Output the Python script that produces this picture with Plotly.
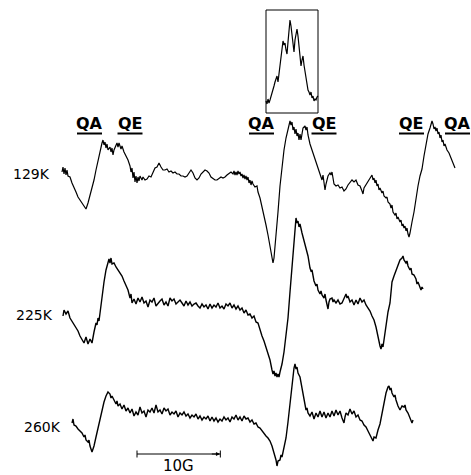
import plotly.graph_objects as go

# ---------------- data (field offset in gauss, derivative signal in a.u.) ----------------
field_129 = [0, 0.12, 0.24, 0.36, 0.48, 0.6, 0.72, 0.96, 1.2, 1.44, 1.68, 1.92, 2.16, 2.4, 2.64, 2.88, 3.12, 3.36, 3.6, 3.84, 4.08, 4.32, 4.56, 4.8,
             4.92, 5.04, 5.16, 5.28, 5.4, 5.52, 5.76, 5.88, 6.0, 6.12, 6.24, 6.48, 6.6, 6.72, 6.84, 7.08, 7.2, 7.44, 7.68, 7.92, 8.16,
             8.28, 8.4, 8.52, 8.64, 8.76, 8.88, 9.0, 9.12, 9.24, 9.36, 9.6, 9.72,
             9.96, 10.2, 10.44, 10.68, 10.92, 11.16, 11.4, 11.64, 11.88, 12.12, 12.36, 12.6, 12.84, 13.08, 13.32, 13.56, 13.8, 14.04, 14.28,
             14.52, 14.76, 15.0, 15.24, 15.48, 15.72, 15.96, 16.2, 16.44, 16.68, 16.92, 17.16, 17.4, 17.64, 17.88, 18.12, 18.36, 18.6, 18.84,
             19.08, 19.32, 19.56, 19.8, 20.04, 20.28, 20.52,
             20.64, 20.76, 20.88, 21.0, 21.12, 21.24, 21.36, 21.48, 21.6, 21.72, 21.84, 21.96, 22.08, 22.2, 22.32, 22.44, 22.56, 22.68, 22.8, 22.92,
             23.16, 23.4, 23.52, 23.76, 24.0, 24.24, 24.48, 24.72, 24.96, 25.2, 25.32, 25.44,
             25.68, 25.92, 26.16, 26.4, 26.64, 26.88, 27.12, 27.36,
             27.48, 27.6, 27.72, 27.84, 27.96, 28.08, 28.2, 28.32, 28.44, 28.56, 28.68, 28.8, 28.92,
             29.16, 29.28, 29.4, 29.52, 29.76, 30.0, 30.24, 30.48, 30.72, 30.96, 31.2,
             31.32, 31.44, 31.56, 31.68, 31.8, 31.92, 32.16, 32.28, 32.4, 32.52, 32.64,
             32.88, 33.12, 33.36, 33.6, 33.84, 34.08, 34.32, 34.56, 34.8, 35.04, 35.28, 35.52, 35.76, 36.0,
             36.12, 36.24, 36.48, 36.72, 36.96, 37.2,
             37.32, 37.44, 37.56, 37.68, 37.8, 37.92, 38.04, 38.16, 38.4, 38.52, 38.64, 38.88, 39.0, 39.12,
             39.36, 39.48, 39.6, 39.72, 39.96, 40.08, 40.2, 40.32,
             40.56, 40.68, 40.8, 40.92, 41.04, 41.16, 41.28, 41.4, 41.52, 41.64, 41.76, 41.88, 42.0,
             42.24, 42.48, 42.72, 42.96, 43.2, 43.44, 43.68, 43.92, 44.16,
             44.28, 44.4, 44.52, 44.64, 44.76, 44.88, 45.0, 45.12, 45.24, 45.36, 45.48, 45.6, 45.72, 45.84, 45.96, 46.08, 46.2,
             46.44, 46.68, 46.92, 47.16]
signal_129 = [3, 8, 1, 7, 0, 5, -1, -2, -8, -12, -17, -22, -25, -28, -31, -34, -28, -21, -14, -5, 5, 15, 23, 32,
              35, 30, 33, 27, 31, 25, 28, 23, 27, 20, 25, 29, 32, 28, 32, 26, 29, 23, 19, 15, 9,
              3, 7, -3, 3, -7, -1, -8, -2, -6, -1, -5, -2,
              -5, -4, -1, -2, 3, 7, 8, 12, 8, 5, 5, 6, 3, 4, 2, 3, 1, 1, -1,
              -1, -2, -1, 2, 5, 2, -3, -5, -3, 1, 3, 5, 4, 2, -2, -4, -5, -5, -3,
              -2, -3, -2, 0, 2, 3, 1,
              4, 0, 3, 0, 4, 1, 3, -1, 1, -3, 0, -4, -1, -5, -2, -8, -5, -10, -6, -9,
              -12, -11, -17, -23, -31, -40, -50, -60, -72, -85, -88, -83,
              -63, -37, -11, 9, 25, 37, 47, 54,
              50, 53, 45, 48, 41, 46, 39, 42, 35, 41, 35, 44, 47,
              49, 45, 48, 40, 31, 25, 20, 15, 8, 2, -5,
              0, -7, -15, -9, -4, -1, 2, 0, 3, -3, -9,
              -11, -10, -13, -12, -16, -14, -10, -7, -5, -7, -5, -10, -11, -16,
              -19, -13, -10, -7, -3, 0,
              -5, -3, -8, -5, -11, -9, -15, -13, -18, -16, -21, -23, -22, -27,
              -29, -33, -30, -37, -40, -38, -44, -42,
              -47, -45, -51, -49, -53, -51, -56, -53, -59, -62, -58, -50, -47,
              -37, -23, -11, -1, 6, 19, 30, 41, 47,
              50, 54, 51, 46, 48, 44, 47, 41, 43, 37, 40, 33, 35, 29, 31, 27, 25,
              22, 17, 12, 7]

field_225 = [0.12, 0.24, 0.48, 0.72, 0.96, 1.2, 1.44, 1.68, 1.92, 2.16, 2.4, 2.64, 2.88, 3.12, 3.36, 3.6, 3.84, 4.08, 4.2, 4.32,
             4.44, 4.56, 4.8, 5.04, 5.28, 5.52, 5.64, 5.76, 5.88, 6.0, 6.24, 6.48, 6.72, 6.96, 7.2, 7.44, 7.68, 7.92, 8.16, 8.28, 8.4,
             8.64, 8.88, 9.12, 9.36, 9.6, 9.84, 10.08, 10.32, 10.56, 10.8, 11.04, 11.28, 11.52, 11.76, 12.0, 12.24, 12.48, 12.72, 12.96,
             13.2, 13.44, 13.68, 13.92, 14.16, 14.4, 14.64, 14.88, 15.12, 15.36, 15.6, 15.84, 16.08, 16.32, 16.56, 16.8, 17.04, 17.28, 17.52, 17.76,
             18.0, 18.24, 18.48, 18.72, 18.96, 19.2, 19.44, 19.68, 19.92, 20.16, 20.4, 20.64, 20.88, 21.12, 21.36, 21.6, 21.84, 22.08, 22.32, 22.56,
             22.8, 23.04, 23.28, 23.52, 23.76, 24.0, 24.24, 24.48, 24.72, 24.96,
             25.2, 25.32, 25.44, 25.56, 25.68, 25.8, 25.92, 26.04, 26.16, 26.4, 26.64, 26.88, 27.12, 27.36, 27.6, 27.84, 27.96, 28.08, 28.2, 28.32,
             28.44, 28.56, 28.8, 29.04, 29.28, 29.52, 29.76, 29.88, 30.0, 30.24, 30.48, 30.6, 30.72, 30.96, 31.08, 31.2, 31.44, 31.56, 31.68, 31.92,
             32.04, 32.16, 32.4, 32.52, 32.64, 32.88, 33.12, 33.36, 33.6, 33.84, 34.08, 34.2, 34.32, 34.56, 34.8, 35.04, 35.28, 35.52, 35.76, 36.0,
             36.24, 36.48, 36.72, 36.96, 37.2, 37.44, 37.68, 37.92, 38.16, 38.28, 38.4, 38.52, 38.64, 38.88, 39.12, 39.36, 39.6, 39.84, 40.08, 40.32,
             40.56, 40.8, 40.92, 41.04, 41.28, 41.4, 41.52, 41.76, 41.88, 42.0, 42.24, 42.48, 42.6, 42.72, 42.96, 43.08, 43.2, 43.32]
signal_225 = [-11, -5, -9, -6, -13, -16, -19, -22, -26, -31, -35, -38, -32, -39, -34, -38, -27, -18, -20, -13,
              -16, -7, 7, 23, 35, 42, 46, 42, 47, 41, 42, 38, 35, 31, 29, 24, 20, 15, 7, 11, 2,
              6, 1, 7, 3, 8, 2, 4, -2, 5, 3, 7, -1, 2, 4, 6, 0, 3, -1, 7,
              4, 6, 1, 3, 5, 2, -1, 4, 0, 3, -1, 1, 2, -1, -3, 1, -2, 0, -4, 1,
              -3, 0, -2, 2, -3, -1, -4, 1, -1, 2, -3, 0, -4, -1, -5, -3, -8, -5, -10, -9,
              -13, -11, -17, -18, -25, -31, -36, -42, -48, -55,
              -65, -69, -66, -71, -68, -72, -69, -72, -67, -59, -47, -31, -13, 13, 39, 70, 83, 87, 82, 84,
              78, 81, 72, 64, 58, 49, 37, 34, 35, 24, 19, 21, 15, 11, 14, 10, 7, 11, 5, -4,
              3, 6, 7, 3, 5, 2, 5, 1, 2, 6, 11, 7, 9, 3, 5, 0, 5, 1, 7, 3,
              5, 0, -3, -6, -11, -15, -22, -33, -41, -44, -39, -42, -35, -20, -7, 2, 23, 29, 35, 41,
              45, 47, 49, 45, 42, 44, 39, 35, 37, 31, 30, 26, 21, 23, 18, 15, 18, 16]

field_260 = [1.2, 1.32, 1.44, 1.68, 1.92, 2.16, 2.4, 2.64, 2.76, 2.88, 3.12, 3.24, 3.36, 3.6, 3.84, 4.08, 4.32, 4.56, 4.8, 5.04,
             5.28, 5.52, 5.76, 5.88, 6.0, 6.24, 6.48, 6.6, 6.72,
             6.96, 7.2, 7.44, 7.68, 7.92, 8.16, 8.4, 8.64, 8.88, 9.12, 9.36, 9.6, 9.84, 10.08, 10.32, 10.56, 10.8, 11.04, 11.28, 11.52,
             11.76, 12.0, 12.24, 12.48, 12.72, 12.96, 13.2, 13.44, 13.68, 13.92, 14.16, 14.4, 14.64, 14.88, 15.12, 15.36, 15.6, 15.84, 16.08, 16.32,
             16.56, 16.8, 17.04, 17.28, 17.52, 17.76, 18.0, 18.24, 18.48, 18.72, 18.96, 19.2, 19.44, 19.68, 19.92, 20.16, 20.4, 20.64, 20.88, 21.12,
             21.36, 21.6, 21.84, 22.08, 22.32, 22.56, 22.8, 23.04, 23.28, 23.52, 23.76, 24.0, 24.24, 24.48, 24.72, 24.96, 25.2, 25.44, 25.68,
             25.8, 25.92, 26.16, 26.28, 26.4, 26.64, 26.88, 27.12, 27.36, 27.6, 27.84, 27.96, 28.08, 28.2, 28.32, 28.56, 28.8, 29.04, 29.28, 29.4,
             29.52, 29.76, 30.0, 30.24, 30.48, 30.72, 30.96, 31.2, 31.44, 31.68, 31.92, 32.16, 32.4, 32.64, 32.88, 33.12, 33.36, 33.6, 33.84, 33.96,
             34.08, 34.32, 34.56, 34.8, 35.04, 35.28, 35.52, 35.76, 36.0, 36.24, 36.48, 36.72, 36.96, 37.2, 37.32, 37.44, 37.68, 37.8, 37.92, 38.16,
             38.4, 38.64, 38.88, 39.12, 39.24, 39.36, 39.48, 39.6, 39.84, 39.96, 40.08, 40.32, 40.56, 40.68, 40.8, 41.04, 41.16, 41.28, 41.52, 41.76,
             42.0, 42.12]
signal_260 = [-6, -2, -8, -9, -12, -14, -16, -20, -18, -23, -25, -23, -29, -35, -29, -20, -11, -1, 7, 15,
              21, 25, 23, 19, 21, 16, 13, 16, 11,
              13, 8, 12, 6, 9, 4, 8, 1, 5, 2, 10, 4, 6, 0, 7, 5, 9, 4, 12, 5,
              7, 3, 9, 6, 8, 2, 5, 3, 6, 0, 4, 2, 5, 1, 3, -1, 2, 0, 3, -2,
              1, -3, 0, -2, 1, -4, 0, -4, -1, -5, -2, -4, 0, -3, -1, -5, 0, -2, 2, -3,
              0, -4, 1, -2, -1, -5, -3, -7, -6, -10, -11, -14, -16, -19, -21, -24, -29, -35, -43,
              -49, -44, -43, -38, -40, -32, -21, -5, 14, 32, 49, 53, 48, 50, 44, 40, 28, 15, 7, 9,
              4, 1, 5, -2, 4, 0, 6, 0, 5, -1, 4, 0, 6, 1, 7, 2, 6, -1, -6, 0,
              4, 2, 8, 3, 6, 0, 2, -3, -4, -8, -10, -14, -19, -22, -24, -20, -21, -15, -13, -7,
              3, 15, 24, 30, 31, 27, 29, 24, 20, 22, 17, 11, 7, 9, 11, 10, 12, 7, 4, -1,
              -6, -3]

# expanded central line of the 129 K spectrum (drawn inside the framed inset)
field_inset = [24.48, 24.6, 24.72, 24.84, 24.96, 25.08, 25.2, 25.32, 25.44, 25.56, 25.68, 25.8, 25.92, 26.04, 26.16, 26.28, 26.4, 26.52,
               26.64, 26.76, 26.88, 27.0, 27.12, 27.24, 27.36, 27.48, 27.6, 27.72, 27.84, 27.96, 28.08, 28.2, 28.32, 28.44, 28.56, 28.68,
               28.8, 28.92, 29.04, 29.16, 29.28, 29.4, 29.52, 29.64, 29.76, 29.88, 30.0, 30.12, 30.24, 30.36, 30.48, 30.6, 30.72]
signal_inset = [2, -1, 4, 0, 3, 6, 10, 13, 17, 21, 24, 27, 21, 29, 37, 43, 48, 62,
                58, 60, 53, 49, 61, 75, 83, 77, 69, 57, 51, 63, 69, 74, 67, 55, 45, 37,
                43, 47, 38, 31, 27, 21, 13, 11, 8, 11, 5, 7, 2, 4, 3, 6, 7]

temperatures = ["129K", "225K", "260K"]
site_labels = ["QA", "QE", "QA", "QE", "QE", "QA"]
site_fields = [3.3, 8.16, 23.94, 31.44, 41.94, 47.46]
scale_bar_gauss = 10
scale_label = "10G"

assert len(field_129) == len(signal_129), (len(field_129), len(signal_129))
assert len(field_225) == len(signal_225), (len(field_225), len(signal_225))
assert len(field_260) == len(signal_260), (len(field_260), len(signal_260))
assert len(field_inset) == len(signal_inset), (len(field_inset), len(signal_inset))

# ---------------- layout constants ----------------
offsets = {"129K": -175, "225K": -305, "260K": -417}
widths = {"129K": 1.2, "225K": 1.4, "260K": 1.4}
inset_offset = -103
FONT = "DejaVu Sans"

fig = go.Figure()
series = {"129K": (field_129, signal_129), "225K": (field_225, signal_225), "260K": (field_260, signal_260)}
for name in temperatures:
    f, s = series[name]
    fig.add_trace(go.Scatter(x=f, y=[offsets[name] + v for v in s], mode="lines",
                             line=dict(color="black", width=widths[name]), showlegend=False, hoverinfo="skip"))
fig.add_trace(go.Scatter(x=field_inset, y=[inset_offset + v for v in signal_inset], mode="lines",
                         line=dict(color="black", width=1.2), showlegend=False, hoverinfo="skip"))

annotations = []
label_pos = {"129K": (-1.2, -174), "225K": (-0.84, -315), "260K": (0.12, -427)}
for name in temperatures:
    x, y = label_pos[name]
    annotations.append(dict(x=x, y=y, xref="x", yref="y", text=name, showarrow=False,
                            xanchor="right", yanchor="middle", font=dict(family=FONT, size=14, color="black")))
shapes = []
for lab, fx in zip(site_labels, site_fields):
    annotations.append(dict(x=fx, y=-123, xref="x", yref="y", text="<b>%s</b>" % lab, showarrow=False,
                            xanchor="center", yanchor="middle", font=dict(family=FONT, size=16, color="black")))
    shapes.append(dict(type="line", x0=fx - 1.5, x1=fx + 1.5, y0=-133.5, y1=-133.5, xref="x", yref="y",
                       line=dict(color="black", width=2)))

# inset frame
shapes.append(dict(type="rect", x0=24.48, x1=30.72, y0=-113, y1=-10, xref="x", yref="y",
                   line=dict(color="black", width=1)))

# scale bar
sb0 = 9.0
sb1 = sb0 + scale_bar_gauss
shapes.append(dict(type="line", x0=sb0, x1=sb1, y0=-454, y1=-454, xref="x", yref="y", line=dict(color="black", width=1)))
shapes.append(dict(type="line", x0=sb0, x1=sb0, y0=-450.5, y1=-457.5, xref="x", yref="y", line=dict(color="black", width=1)))
shapes.append(dict(type="line", x0=sb1, x1=sb1, y0=-450.5, y1=-457.5, xref="x", yref="y", line=dict(color="black", width=1)))
annotations.append(dict(x=sb1 - 0.05, y=-454, ax=sb1 - 1.2, ay=-454, xref="x", yref="y", axref="x", ayref="y",
                        text="", showarrow=True, arrowhead=2, arrowsize=0.8, arrowwidth=1, arrowcolor="black"))
annotations.append(dict(x=(sb0 + sb1) / 2, y=-466, xref="x", yref="y", text=scale_label, showarrow=False,
                        xanchor="center", yanchor="middle", font=dict(family=FONT, size=15, color="black")))

fig.update_layout(
    width=471, height=475,
    margin=dict(l=0, r=0, t=0, b=0),
    paper_bgcolor="white", plot_bgcolor="white",
    xaxis=dict(range=[-7.44, 49.08], visible=False, fixedrange=True),
    yaxis=dict(range=[-475, 0], visible=False, fixedrange=True),
    annotations=annotations, shapes=shapes,
)

fig.write_html("out.html")
